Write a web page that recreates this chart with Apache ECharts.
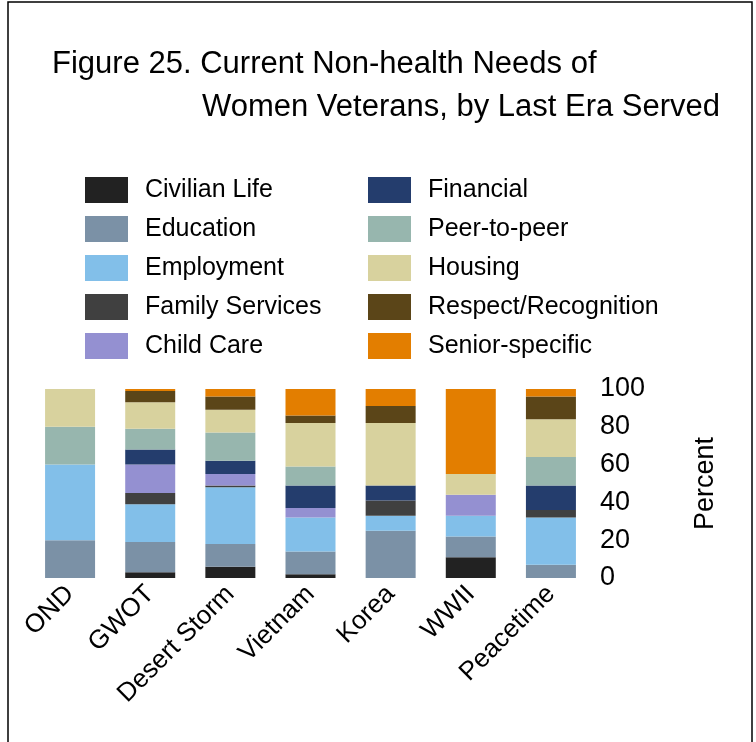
<!DOCTYPE html>
<html>
<head>
<meta charset="utf-8">
<script src="https://cdn.jsdelivr.net/npm/echarts@6/dist/echarts.min.js"></script>
<style>
  html, body { margin: 0; padding: 0; background: #fff; }
  #needsChart { width: 756px; height: 742px; }
</style>
</head>
<body>
<div id="needsChart"></div>
<script>
  // eras (x axis)
  var eras = ['OND', 'GWOT', 'Desert Storm', 'Vietnam', 'Korea', 'WWII', 'Peacetime'];

  // percent of women veterans per need, one value per era
  var civilianLife = [0, 3, 6, 2, 0, 11, 0];
  var education = [20, 16, 12, 12, 25, 11, 7];
  var employment = [40, 20, 30, 18, 8, 11, 25];
  var familyServices = [0, 6, 1, 0, 8, 0, 4];
  var childCare = [0, 15, 6, 5, 0, 11, 0];
  var financial = [0, 8, 7, 12, 8, 0, 13];
  var peerToPeer = [20, 11, 15, 10, 0, 0, 15];
  var housing = [20, 14, 12, 23, 33, 11, 20];
  var respect = [0, 6, 7, 4, 9, 0, 12];
  var seniorSpecific = [0, 1, 4, 14, 9, 45, 4];

  var yTicks = [0, 20, 40, 60, 80, 100];

  var needs = [
    { name: 'Civilian Life', data: civilianLife, color: '#222222' },
    { name: 'Education', data: education, color: '#7b91a6' },
    { name: 'Employment', data: employment, color: '#82bfe9' },
    { name: 'Family Services', data: familyServices, color: '#404040' },
    { name: 'Child Care', data: childCare, color: '#9490d1' },
    { name: 'Financial', data: financial, color: '#243d6d' },
    { name: 'Peer-to-peer', data: peerToPeer, color: '#97b6ae' },
    { name: 'Housing', data: housing, color: '#d8d29e' },
    { name: 'Respect/Recognition', data: respect, color: '#5b4518' },
    { name: 'Senior-specific', data: seniorSpecific, color: '#e37e00' }
  ];

  var font = 'Arial, "Liberation Sans", sans-serif';

  var legendBase = {
    orient: 'vertical',
    itemWidth: 43,
    itemHeight: 26,
    itemGap: 13,
    icon: 'rect',
    top: 172,
    textStyle: { fontSize: 25, color: '#000', fontFamily: font, padding: [3, 0, 0, 12] }
  };

  var myChart = echarts.init(document.getElementById('needsChart'));
  myChart.setOption({
    animation: false,
    textStyle: { fontFamily: font },
    title: [{
      text: 'Figure 25. Current Non-health Needs of',
      left: 47,
      top: 44,
      textStyle: { fontSize: 31, fontWeight: 'normal', color: '#000', fontFamily: font }
    }, {
      text: 'Women Veterans, by Last Era Served',
      left: 197,
      top: 87,
      textStyle: { fontSize: 31, fontWeight: 'normal', color: '#000', fontFamily: font }
    }],
    legend: [
      Object.assign({}, legendBase, { left: 80, data: needs.slice(0, 5).map(function (n) { return n.name; }) }),
      Object.assign({}, legendBase, { left: 363, data: needs.slice(5).map(function (n) { return n.name; }) })
    ],
    grid: {
      left: 30,
      right: 165,
      top: 389,
      bottom: 164
    },
    xAxis: {
      type: 'category',
      data: eras,
      axisLine: { show: false },
      axisTick: { show: false },
      axisLabel: {
        rotate: 45,
        margin: 12,
        fontSize: 26,
        color: '#000',
        interval: 0
      }
    },
    yAxis: {
      type: 'value',
      position: 'right',
      min: yTicks[0],
      max: yTicks[yTicks.length - 1],
      interval: 20,
      name: 'Percent',
      nameLocation: 'middle',
      nameRotate: 90,
      nameGap: 101,
      nameTextStyle: { fontSize: 27, color: '#000' },
      axisLine: { show: false },
      axisTick: { show: false },
      splitLine: { show: false },
      axisLabel: { fontSize: 27, color: '#000', margin: 9, padding: [6, 0, 0, 0] }
    },
    series: needs.map(function (n) {
      return {
        name: n.name,
        type: 'bar',
        stack: 'total',
        barWidth: 50,
        data: n.data,
        itemStyle: { color: n.color }
      };
    }),
    // frame round the whole figure
    graphic: [{
      type: 'rect',
      shape: { x: 8, y: 2, width: 744, height: 800 },
      style: { fill: null, stroke: '#000', lineWidth: 1.5 },
      silent: true
    }]
  });

  window.addEventListener('resize', function () {
    myChart.resize();
  });
</script>
</body>
</html>
